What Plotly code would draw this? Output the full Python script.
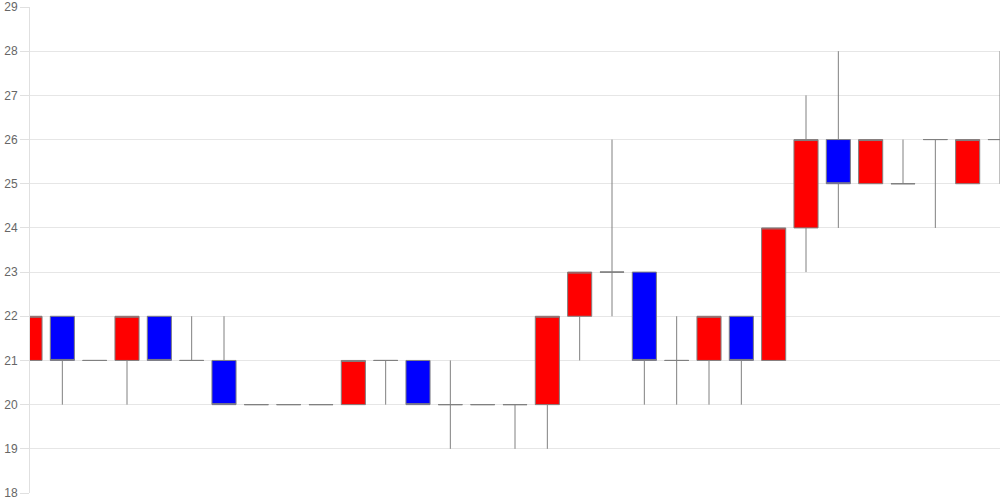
import plotly.graph_objects as go

x_index = list(range(31))
open_ = [21, 22, 21, 21, 22, 21, 21, 20, 20, 20, 20, 21, 21, 20, 20, 20, 20, 22, 23, 23, 21, 21, 22, 21, 24, 26, 25, 25, 26, 25, 26]
high = [22, 22, 21, 22, 22, 22, 22, 20, 20, 20, 21, 21, 21, 21, 20, 20, 22, 23, 26, 23, 22, 22, 22, 24, 27, 28, 26, 26, 26, 26, 28]
low = [21, 20, 21, 20, 21, 21, 20, 20, 20, 20, 20, 20, 20, 19, 20, 19, 19, 21, 22, 20, 20, 20, 20, 21, 23, 24, 25, 25, 24, 25, 25]
close = [22, 21, 21, 22, 21, 21, 20, 20, 20, 20, 21, 21, 20, 20, 20, 20, 22, 23, 23, 21, 21, 22, 21, 24, 26, 25, 26, 25, 26, 26, 26]
y_ticks = list(range(18, 30))

fig = go.Figure(go.Candlestick(
    x=x_index, open=open_, high=high, low=low, close=close,
    increasing=dict(fillcolor="#ff0000", line=dict(color="#808080", width=1)),
    decreasing=dict(fillcolor="#0000ff", line=dict(color="#808080", width=1)),
    whiskerwidth=0,
    hoverinfo="none",
))

fig.update_layout(
    width=1000, height=500,
    margin=dict(l=30, r=0, t=5, b=6),
    paper_bgcolor="white", plot_bgcolor="white",
    showlegend=False,
    boxgap=0.255, boxgroupgap=0,
    font=dict(family="Liberation Sans, Arial, sans-serif", size=12, color="#666666"),
    xaxis=dict(range=[0, 30], showticklabels=False, showgrid=False, zeroline=False,
               showline=False, rangeslider=dict(visible=False), ticks=""),
    yaxis=dict(range=[18, 29], tickvals=y_ticks, showgrid=True, gridcolor="#e6e6e6",
               gridwidth=1, zeroline=False, showline=True, linecolor="#e0e0e0", linewidth=1,
               ticks="outside", ticklen=9, tickcolor="#e0e0e0",
               ticklabeloverflow="allow",
               tickfont=dict(size=12, color="#666666")),
)

fig.write_html("out.html", config={"displayModeBar": False},
               post_script="document.body.style.margin='0';document.body.style.overflow='hidden';")
